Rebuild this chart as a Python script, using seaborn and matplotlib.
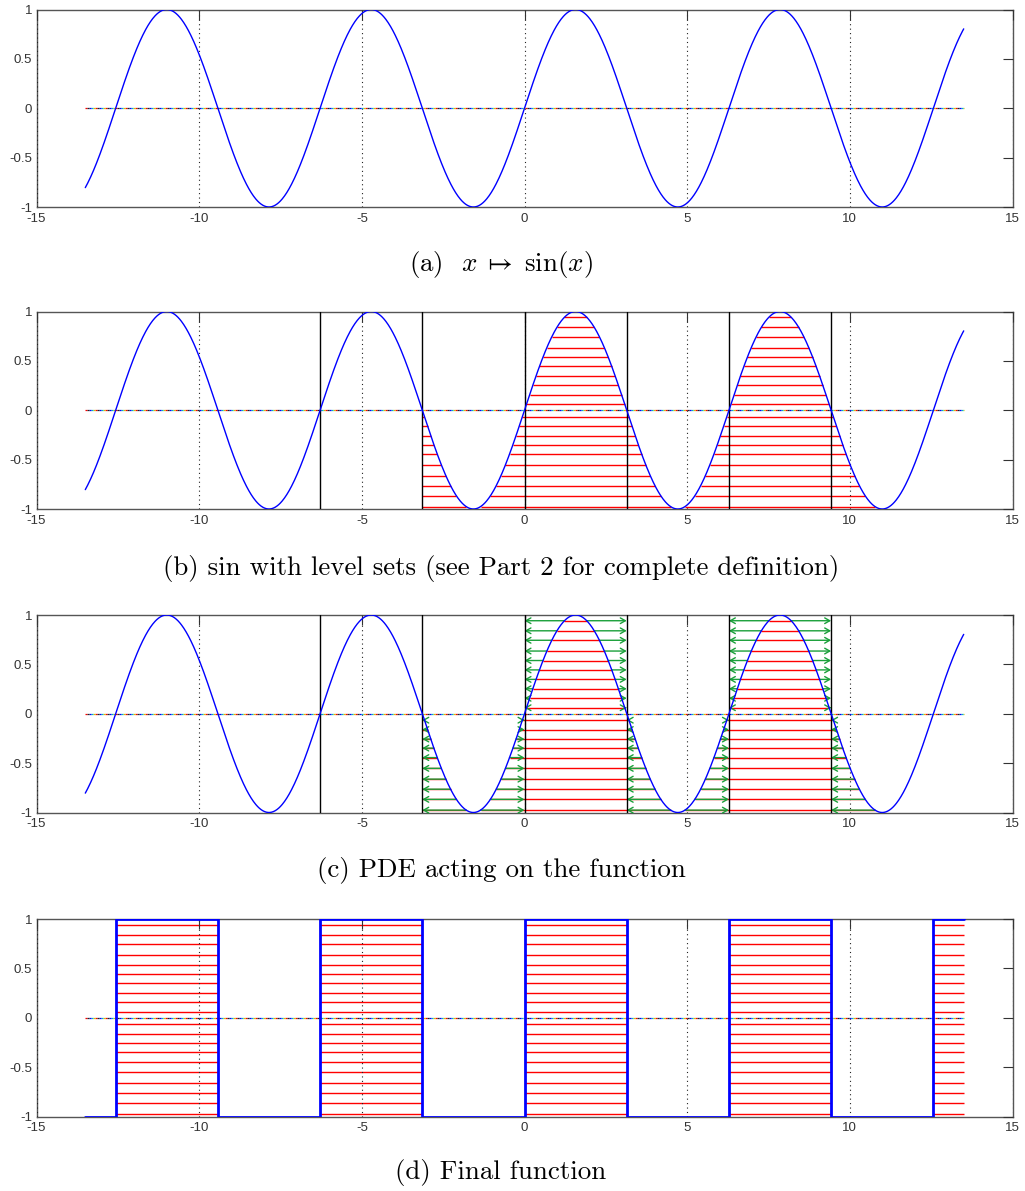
import numpy as np
import matplotlib
matplotlib.use("Agg")
import matplotlib.pyplot as plt
import seaborn as sns

PI = np.pi

# ---------------- data ----------------
X_START, X_END = -13.5, 13.5                      # plotted range of sin(x)
SECTOR_EDGES = [-2 * PI, -PI, 0.0, PI, 2 * PI, 3 * PI]   # black separators (b, c)
HATCH_RANGE = [-PI, 3.5 * PI]                     # x-range of the level-set hatching (b, c)
HIGH_SECTORS = [0.0, 2 * PI]                      # sectors where sin >= 0 that get filled (c)
LOW_SECTORS = [-PI, PI, 3 * PI]                   # sectors where sin <= 0 that get emptied (c)
LEVELS = [-0.976, -0.867, -0.764, -0.662, -0.553, -0.444, -0.348, -0.256, -0.160, -0.065,
          0.061, 0.157, 0.253, 0.348, 0.444, 0.539, 0.635, 0.744, 0.840, 0.942]
STEP_X = [-13.5, -4 * PI, -3 * PI, -2 * PI, -PI, 0.0, PI, 2 * PI, 3 * PI, 4 * PI, 13.5]
STEP_Y = [-1, 1, -1, 1, -1, 1, -1, 1, -1, 1, 1]
X_TICKS = [-15, -10, -5, 0, 5, 10, 15]
Y_TICKS = [-1, -0.5, 0, 0.5, 1]
Y_TICK_LABELS = ["-1", "-0.5", "0", "0.5", "1"]
X_TICK_LABELS = ["-15", "-10", "-5", "0", "5", "10", "15"]
CAPTIONS = [r"(a)  $x \;\mapsto\; \sin(x)$",
            "(b) sin with level sets (see Part 2 for complete definition)",
            "(c) PDE acting on the function",
            "(d) Final function"]

# ---------------- style ----------------
sns.set_theme(style="white")
plt.rcParams["font.family"] = ["Liberation Sans", "DejaVu Sans"]
plt.rcParams["mathtext.fontset"] = "cm"
plt.rcParams["axes.unicode_minus"] = False

W, H = 1025, 1191
fig = plt.figure(figsize=(W / 100, H / 100), dpi=100)

LEFT, RIGHT = 36.5, 1012.5
TOPS = [9.5, 311.5, 615.0, 919.0]
AX_H = 197.5
CAP_Y = [265, 569, 870, 1172]
CAP_X = 501

BLUE = "#0000ff"
RED = "#ff0000"
GREEN = "#1aa03a"

x = np.linspace(X_START, X_END, 1500)
y = np.sin(x)


def hatch_intervals(level, lo, hi):
    a = np.arcsin(level)
    out = []
    for k in range(-4, 5):
        s, e = a + 2 * PI * k, PI - a + 2 * PI * k
        s, e = max(s, lo), min(e, hi)
        if e > s:
            out.append((s, e))
    return out


def base_axes(i):
    top = TOPS[i]
    ax = fig.add_axes([LEFT / W, 1 - (top + AX_H) / H, (RIGHT - LEFT) / W, AX_H / H])
    ax.set_xlim(-15, 15)
    ax.set_ylim(-1, 1)
    ax.set_xticks(X_TICKS)
    ax.set_xticklabels(X_TICK_LABELS)
    ax.set_yticks(Y_TICKS)
    ax.set_yticklabels(Y_TICK_LABELS)
    ax.tick_params(direction="in", top=True, right=True, length=7, width=0.8,
                   labelsize=9.5, colors="#333333", pad=3)
    ax.tick_params(axis="x", pad=4)
    for sp in ax.spines.values():
        sp.set_color("#555555")
        sp.set_linewidth(1.0)
    ax.set_axisbelow(False)
    ax.xaxis.grid(True, linestyle=(0, (1, 3)), color="#222222", linewidth=0.8, zorder=5)
    ax.yaxis.grid(False)
    # multicoloured dash-dot zero line
    for j, c in enumerate(["#ff0000", "#d8c000", "#00b8c8", "#0000ff", "#222222"]):
        ax.plot([X_START, X_END], [0, 0], color=c, lw=0.9,
                ls=(j * 1.6, (1.6, 6.4)), zorder=3)
    ax.set_xlabel("")
    ax.set_ylabel("")
    fig.text(CAP_X / W, 1 - CAP_Y[i] / H, CAPTIONS[i], ha="center", va="center",
             fontsize=19.4, family="cmr10", color="black")
    return ax


def draw_sine(ax):
    sns.lineplot(x=x, y=y, color=BLUE, lw=1.0, ax=ax, estimator=None, sort=False,
                 zorder=6)


def draw_separators(ax):
    for xe in SECTOR_EDGES:
        ax.axvline(xe, color="black", lw=1.0, zorder=4)


def draw_hatch(ax):
    for L in LEVELS:
        for s, e in hatch_intervals(L, *HATCH_RANGE):
            ax.hlines(L, s, e, color=RED, lw=1.0, zorder=2)


def arrow(ax, x0, x1, yy):
    ax.annotate("", xy=(x1, yy), xytext=(x0, yy),
                arrowprops=dict(arrowstyle="->,head_length=0.3,head_width=0.17",
                                color=GREEN, lw=1.0, shrinkA=0, shrinkB=0),
                zorder=3)


# (a)
ax = base_axes(0)
draw_sine(ax)

# (b)
ax = base_axes(1)
draw_hatch(ax)
draw_separators(ax)
draw_sine(ax)

# (c)
ax = base_axes(2)
draw_hatch(ax)
for L in LEVELS:
    a = np.arcsin(L)
    if L > 0:
        for s in HIGH_SECTORS:
            arrow(ax, s + a, s, L)
            arrow(ax, s + PI - a, s + PI, L)
    else:
        for s in LOW_SECTORS:
            if s - a <= HATCH_RANGE[1]:
                arrow(ax, s - a, s, L)
            if s + PI + a <= HATCH_RANGE[1]:
                arrow(ax, s + PI + a, s + PI, L)
draw_separators(ax)
draw_sine(ax)

# (d)
ax = base_axes(3)
for i in range(len(STEP_X) - 1):
    if STEP_Y[i] == 1:
        for L in LEVELS:
            ax.hlines(L, STEP_X[i], STEP_X[i + 1], color=RED, lw=1.0, zorder=2)
sns.lineplot(x=STEP_X, y=STEP_Y, color=BLUE, lw=2.0, drawstyle="steps-post",
             estimator=None, sort=False, ax=ax, zorder=6)

fig.savefig("out.png", dpi=100)
